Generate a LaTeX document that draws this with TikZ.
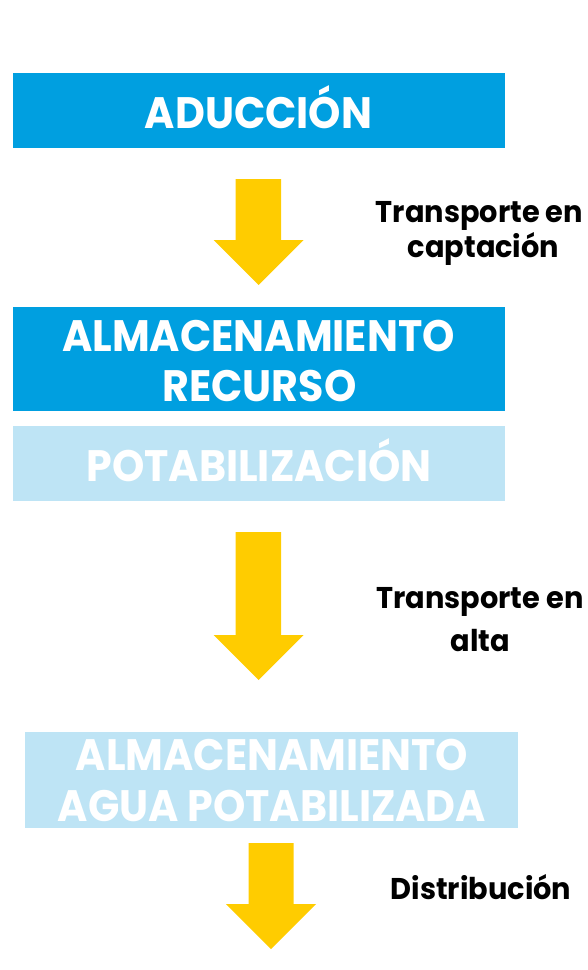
\documentclass[tikz,border=0pt]{standalone}
\usepackage{fontspec}
\setmainfont{Poppins}
\newfontfamily\boxfont{Poppins}[FakeStretch=0.935]
\newfontfamily\sidefont{Poppins}[FakeStretch=0.96]
\definecolor{boxblue}{HTML}{009FE0}
\definecolor{boxlight}{HTML}{BEE4F5}
\definecolor{arrowyellow}{HTML}{FFCC00}
\begin{document}
\begin{tikzpicture}[x=1pt,y=-1pt,
  darkbox/.style={fill=boxblue,draw=none,anchor=north west,inner sep=0pt},
  lightbox/.style={fill=boxlight,draw=none,anchor=north west,inner sep=0pt},
  boxtext/.style={text=white,anchor=base,inner sep=0pt,font=\boxfont\bfseries\fontsize{44}{44}\selectfont},
  sidetext/.style={text=black,anchor=base,inner sep=0pt,font=\sidefont\bfseries\fontsize{30}{30}\selectfont},
  blockarrow/.style={fill=arrowyellow,draw=none}]
\useasboundingbox (0,0) rectangle (588,970);
% boxes
\node[darkbox,minimum width=492pt,minimum height=75pt] (aduccion) at (13,73) {};
\node[darkbox,minimum width=492pt,minimum height=104pt] (recurso) at (13,307) {};
\node[lightbox,minimum width=492pt,minimum height=75pt] (potab) at (13,426) {};
\node[lightbox,minimum width=493pt,minimum height=96pt] (aguapot) at (25,732) {};
% box texts
\node[boxtext] (t1) at (258.5,128.3) {ADUCCIÓN};
\node[boxtext] (t2a) at (258.5,351) {ALMACENAMIENTO};
\node[boxtext] (t2b) at (259.5,401.7) {RECURSO};
\node[boxtext] (t3) at (259,481) {POTABILIZACIÓN};
\node[boxtext] (t4a) at (272,770.7) {ALMACENAMIENTO};
\node[boxtext] (t4b) at (272,821.7) {AGUA POTABILIZADA};
% block arrows
\fill[blockarrow] (235.5,179) -- (281,179) -- (281,240) -- (303.7,240) -- (258.7,285) -- (213.7,240) -- (235.5,240) -- cycle;
\fill[blockarrow] (235.5,532) -- (281,532) -- (281,635) -- (303.7,635) -- (258.7,680) -- (213.7,635) -- (235.5,635) -- cycle;
\fill[blockarrow] (248.6,843) -- (293.6,843) -- (293.6,904) -- (316,904) -- (271,949) -- (226,904) -- (248.6,904) -- cycle;
% side labels
\node[sidetext] (s1a) at (479.5,222) {Transporte en};
\node[sidetext] (s1b) at (483.5,257) {captación};
\node[sidetext] (s2a) at (480,608) {Transporte en};
\node[sidetext] (s2b) at (480.5,651.7) {alta};
\node[sidetext] (s3) at (481,899) {Distribución};
\end{tikzpicture}
\end{document}
